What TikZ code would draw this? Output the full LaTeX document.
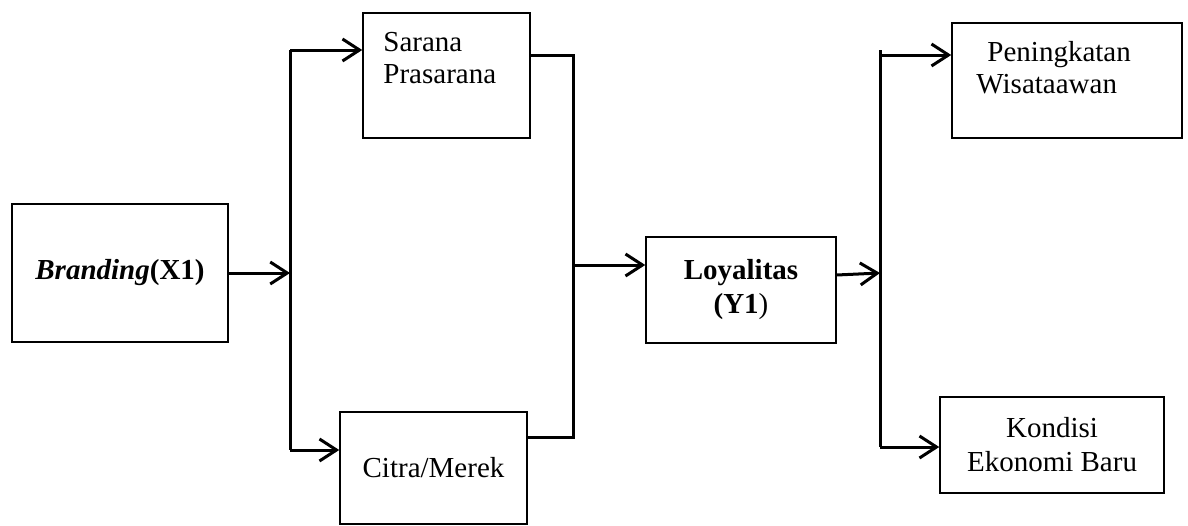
\documentclass[tikz,border=0pt]{standalone}
\usepackage{fontspec}
\setmainfont{Liberation Serif}
\usepackage{tikz}
\usetikzlibrary{arrows.meta,positioning,calc}

\tikzset{
    box/.style={draw, line width=1.5pt, inner sep=0pt, align=center,
        font=\fontsize{29}{34}\selectfont},
    boxtext/.style={inner sep=0pt, align=left, anchor=north west,
        font=\fontsize{29}{32}\selectfont},
    link/.style={line width=3pt},
    arrowlink/.style={link, -{Straight Barb[length=17pt,width=22pt,line width=3pt]}}
}

\begin{document}
\begin{tikzpicture}[x=1pt, y=-1pt]
        \useasboundingbox (0,0) rectangle (1188,525);
        % boxes
        \node[box, minimum width=216pt, minimum height=138pt] (branding) at (120,273) {\textbf{\textit{Branding}}\textbf{(X1)}};
        \node[box, minimum width=167pt, minimum height=125pt] (sarana) at (446.5,75.5) {};
        \node[boxtext] (saranatxt) at ([xshift=21pt,yshift=-20pt]sarana.north west) {Sarana\\Prasarana};
        \node[box, minimum width=187pt, minimum height=112pt] (citra) at (433.5,468) {Citra/Merek};
        \node[box, minimum width=190pt, minimum height=106pt] (loyalitas) at (741,290) {\textbf{Loyalitas}\\\textbf{(Y1})};
        \node[box, minimum width=230pt, minimum height=115pt] (peningkatan) at (1067,80.5) {};
        \node[boxtext] (peningkatantxt) at ([xshift=25pt,yshift=-19pt]peningkatan.north west) {\hspace{11pt}Peningkatan\\Wisataawan};
        \node[box, minimum width=224pt, minimum height=96pt] (kondisi) at (1052,445) {Kondisi\\Ekonomi Baru};

        % bus lines
        \coordinate (leftTop) at (290,50);
        \coordinate (leftBot) at (290,450);
        \coordinate (midTop) at (573,55);
        \coordinate (midBot) at (573,437);
        \coordinate (midJoin) at (573,265);
        \coordinate (rightTop) at (880,50);
        \coordinate (rightBot) at (880,447);

        \draw[link] (leftTop) -- (leftBot);
        \draw[arrowlink] (branding.east) -- (branding.east -| leftTop);
        \draw[arrowlink] (leftTop) -- (leftTop -| sarana.west);
        \draw[arrowlink] (leftBot) -- (leftBot -| citra.west);

        \draw[link] (midTop -| sarana.east) -- (midTop) -- (midBot) -- (midBot -| citra.east);
        \draw[arrowlink] (midJoin) -- (midJoin -| loyalitas.west);

        \draw[link] (rightTop) -- (rightBot);
        \draw[arrowlink] ([yshift=15pt]loyalitas.east) -- ([yshift=17pt]loyalitas.east -| rightTop);
        \draw[arrowlink] ([yshift=-5pt]rightTop) -- ([yshift=-5pt]rightTop -| peningkatan.west);
        \draw[arrowlink] (rightBot) -- (rightBot -| kondisi.west);
    \end{tikzpicture}
\end{document}
